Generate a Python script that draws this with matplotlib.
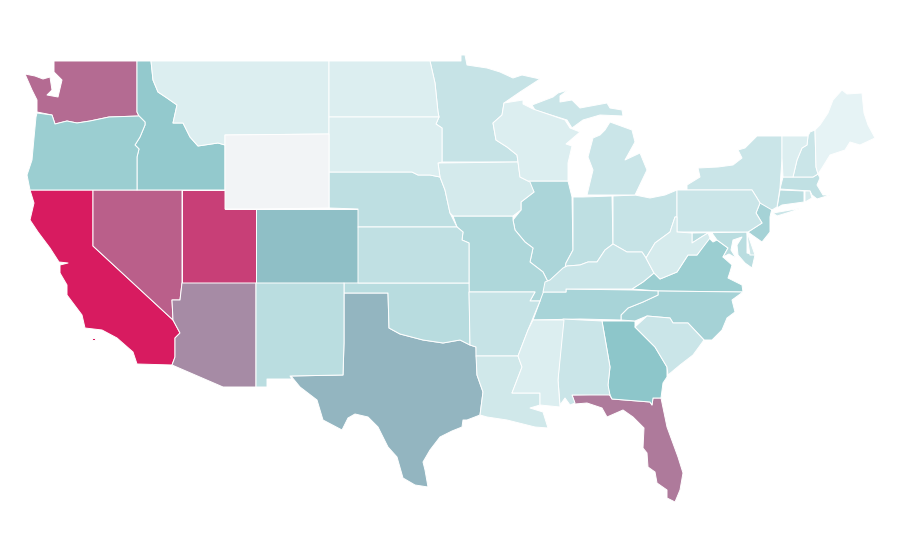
import numpy as np
import matplotlib
matplotlib.use("Agg")
import matplotlib.pyplot as plt
from matplotlib.collections import PolyCollection
from matplotlib.colors import LinearSegmentedColormap, Normalize

# estimated value per state, read off the fill colour (Wyoming has no data)
states = ["CA", "UT", "NV", "WA", "FL", "AZ", "TX", "CO", "GA", "ID", "OR", "VA", "NC", "NJ", "TN",
          "IL", "MO", "OK", "NM", "CT", "MD", "NE", "IN", "KS", "MA", "MN", "OH", "NY", "PA", "MI",
          "KY", "AL", "SC", "NH", "AR", "LA", "DE", "IA", "WV", "RI", "MT", "ND", "SD", "WI", "MS",
          "VT", "ME", "WY"]
values = [100, 85, 72, 67, 61, 54, 37, 33, 30, 28, 25, 25, 22, 22, 21,
          20, 19, 16, 15, 15, 15, 14, 14, 13, 13, 11, 11, 10, 10, 10,
          10, 10, 10, 10, 11, 8, 8, 7, 6, 6, 4, 4, 4, 4, 4,
          4, 1, np.nan]

# state outlines, in pixels
outlines = {
    "WA": [[(54, 61), (137, 61), (137, 112), (139, 116), (109, 117), (90, 121), (77, 123), (67, 121), (55, 124), (52, 115), (37, 112),
            (37, 100), (32, 90), (25, 74), (35, 76), (43, 79), (50, 77), (52, 90), (47, 95), (58, 97), (62, 80), (54, 72)]],
    "OR": [[(37, 113), (52, 115), (55, 124), (67, 121), (77, 123), (90, 121), (109, 117), (139, 116), (145, 122), (145, 125), (140, 137),
            (135, 145), (139, 149), (137, 157), (137, 190), (30, 190), (27, 175), (32, 160), (34, 138), (36, 117)]],
    "ID": [[(137, 61), (151, 61), (153, 80), (158, 92), (167, 98), (177, 105), (173, 123), (183, 123), (190, 137), (198, 146), (218, 143),
            (225, 145), (225, 190), (137, 190), (137, 157), (139, 149), (135, 145), (140, 137), (145, 125), (145, 122), (139, 116), (137, 112)]],
    "MT": [[(151, 61), (329, 61), (329, 134), (225, 135), (225, 145), (218, 143), (198, 146), (190, 137), (183, 123), (173, 123), (177, 105),
            (167, 98), (158, 92), (153, 80)]],
    "WY": [[(225, 135), (329, 134), (329, 208), (256, 209), (225, 209)]],
    "ND": [[(329, 61), (430, 61), (435, 83), (438, 112), (439, 117), (329, 117)]],
    "SD": [[(329, 117), (439, 117), (436, 124), (442, 128), (442, 162), (438, 163), (440, 177), (430, 175), (418, 175), (412, 172), (329, 172)]],
    "NE": [[(329, 172), (412, 172), (418, 175), (430, 175), (440, 177), (445, 190), (450, 213), (457, 227), (358, 227), (358, 209), (329, 208)]],
    "KS": [[(358, 227), (457, 227), (463, 232), (462, 240), (469, 243), (469, 283), (358, 283)]],
    "CO": [[(256, 209), (358, 209), (358, 283), (256, 283)]],
    "NM": [[(256, 283), (344, 283), (344, 343), (343, 375), (290, 376), (292, 379), (267, 379), (267, 387), (256, 387)]],
    "OK": [[(344, 283), (469, 283), (470, 345), (460, 340), (443, 343), (423, 340), (400, 334), (389, 328), (388, 293), (344, 293)]],
    "TX": [[(344, 293), (388, 293), (389, 328), (400, 334), (423, 340), (443, 343), (460, 340), (470, 345), (476, 347), (477, 375), (483, 392),
            (480, 415), (467, 420), (463, 420), (462, 427), (452, 431), (440, 437), (430, 450), (423, 462), (425, 470), (428, 487), (415, 485), (403, 478),
            (397, 457), (388, 447), (378, 427), (368, 417), (355, 414), (348, 418), (342, 430), (323, 420), (317, 400), (300, 387), (291, 376),
            (343, 375), (344, 343)]],
    "AZ": [[(182, 283), (256, 283), (256, 387), (223, 387), (172, 365), (175, 357), (175, 338), (180, 333), (173, 320), (172, 300), (180, 300)]],
    "UT": [[(182, 190), (225, 190), (225, 209), (256, 209), (256, 283), (182, 283)]],
    "NV": [[(93, 190), (182, 190), (182, 283), (180, 300), (172, 300), (173, 320), (93, 246)]],
    "CA": [[(30, 190), (93, 190), (93, 246), (173, 320), (180, 333), (175, 338), (175, 357), (172, 365), (137, 364), (133, 352), (117, 338),
            (102, 330), (85, 328), (82, 315), (67, 295), (67, 285), (60, 273), (60, 265), (68, 263), (59, 262), (50, 248), (38, 232), (30, 220),
            (34, 203)],
           [(92, 338), (95, 338), (95, 340), (92, 340)]],
    "MN": [[(430, 61), (461, 61), (461, 55), (465, 55), (467, 65), (487, 68), (500, 72), (513, 78), (522, 75), (540, 79), (520, 92), (504, 103),
            (502, 115), (493, 123), (496, 140), (507, 147), (517, 155), (518, 162), (442, 162), (442, 128), (436, 124), (439, 117), (438, 112), (435, 83)]],
    "IA": [[(438, 163), (518, 162), (520, 177), (530, 182), (534, 192), (521, 202), (521, 210), (513, 216), (453, 216), (450, 213), (445, 190), (440, 177)]],
    "WI": [[(504, 103), (523, 100), (523, 104), (533, 109), (565, 120), (570, 128), (580, 132), (566, 144), (572, 146), (568, 163), (568, 181),
            (528, 181), (520, 177), (518, 162), (517, 155), (507, 147), (496, 140), (493, 123), (502, 115)]],
    "MI": [[(532, 105), (553, 97), (558, 93), (568, 90), (560, 96), (560, 102), (572, 100), (580, 108), (607, 103), (610, 108), (622, 110), (623, 116),
            (600, 115), (583, 120), (572, 128), (567, 120), (535, 110)],
           [(610, 122), (632, 130), (635, 142), (625, 160), (640, 153), (647, 170), (635, 195), (587, 195), (593, 170), (588, 157), (593, 138), (600, 135), (605, 130)]],
    "IL": [[(528, 181), (568, 181), (572, 197), (573, 250), (566, 263), (565, 268), (548, 282), (543, 272), (530, 262), (533, 248), (525, 242),
            (515, 230), (513, 220), (521, 210), (521, 202), (534, 192)]],
    "MO": [[(453, 216), (513, 216), (513, 220), (515, 230), (525, 242), (533, 248), (530, 262), (543, 272), (548, 282), (543, 293), (540, 301), (530, 301),
            (535, 292), (469, 292), (469, 243), (462, 240), (463, 232), (457, 227)]],
    "AR": [[(469, 292), (535, 292), (530, 301), (540, 301), (533, 318), (528, 330), (518, 356), (476, 356), (476, 347), (470, 345)]],
    "LA": [[(476, 356), (518, 356), (522, 367), (512, 393), (540, 393), (540, 405), (530, 408), (543, 412), (548, 428), (535, 427), (507, 420), (487, 417),
            (480, 415), (483, 392), (477, 375)]],
    "MS": [[(533, 320), (564, 320), (558, 380), (560, 407), (540, 405), (540, 393), (512, 393), (522, 367), (518, 356), (528, 330)]],
    "AL": [[(563, 319), (602, 321), (610, 367), (608, 385), (610, 395), (572, 395), (575, 403), (570, 405), (565, 398), (560, 405), (558, 380)]],
    "GA": [[(602, 321), (635, 321), (635, 327), (655, 347), (667, 367), (667, 377), (663, 383), (661, 398), (653, 398), (652, 405), (650, 402), (612, 399),
            (609, 393), (608, 385), (610, 367)]],
    "FL": [[(572, 395), (609, 394), (612, 399), (650, 402), (652, 405), (653, 398), (661, 398), (667, 427), (678, 457), (683, 473), (680, 490), (675, 502),
            (667, 498), (667, 490), (657, 483), (655, 472), (648, 467), (647, 453), (643, 448), (644, 428), (633, 417), (623, 410), (607, 417), (602, 408),
            (587, 403), (575, 404)]],
    "SC": [[(635, 327), (647, 316), (670, 318), (673, 323), (688, 323), (704, 340), (693, 355), (680, 365), (668, 375), (667, 367), (655, 347)]],
    "NC": [[(658, 291), (743, 292), (732, 300), (735, 312), (727, 318), (722, 330), (712, 340), (704, 340), (688, 323), (673, 323), (670, 318), (647, 316),
            (635, 321), (621, 320), (621, 315), (628, 308), (643, 302), (658, 295)]],
    "TN": [[(542, 292), (566, 292), (566, 289), (633, 290), (658, 291), (658, 295), (643, 302), (628, 308), (621, 315), (621, 320), (580, 319), (533, 320), (540, 301)]],
    "KY": [[(545, 282), (550, 280), (563, 268), (567, 266), (580, 265), (588, 262), (597, 262), (605, 250), (613, 244), (627, 252), (642, 252), (646, 258),
            (654, 273), (643, 282), (632, 289), (566, 289), (566, 292), (543, 292)]],
    "VA": [[(632, 289), (643, 282), (654, 273), (660, 279), (677, 272), (688, 255), (697, 255), (709, 238), (713, 242), (717, 240), (728, 248), (723, 257),
            (732, 265), (730, 272), (728, 278), (742, 285), (743, 292), (658, 291)]],
    "WV": [[(646, 258), (655, 243), (670, 232), (675, 217), (677, 217), (677, 232), (692, 233), (692, 243), (703, 236), (708, 233), (710, 238), (697, 255),
            (688, 255), (677, 272), (660, 279), (654, 273)]],
    "OH": [[(613, 196), (635, 195), (650, 198), (665, 195), (677, 190), (677, 217), (675, 217), (670, 232), (655, 243), (646, 258), (642, 252), (627, 252), (613, 244)]],
    "IN": [[(573, 197), (583, 197), (612, 196), (613, 244), (605, 250), (597, 262), (588, 262), (580, 265), (567, 266), (565, 268), (566, 263), (573, 250)]],
    "PA": [[(677, 190), (687, 190), (752, 190), (757, 198), (760, 203), (756, 213), (762, 223), (748, 232), (677, 232)]],
    "NY": [[(687, 190), (687, 185), (700, 177), (698, 168), (718, 167), (733, 165), (742, 158), (738, 150), (745, 148), (757, 136), (782, 136), (782, 158), (780, 188),
            (777, 207), (772, 210), (760, 203), (757, 198), (752, 190)],
           [(773, 213), (802, 208), (790, 212), (777, 216)]],
    "VT": [[(782, 136), (808, 136), (807, 145), (802, 148), (797, 160), (793, 177), (783, 177), (782, 158)]],
    "NH": [[(810, 132), (815, 130), (816, 167), (818, 174), (813, 177), (793, 177), (797, 160), (802, 148), (807, 145), (808, 136)]],
    "ME": [[(815, 130), (820, 125), (828, 113), (833, 100), (842, 90), (847, 94), (862, 93), (864, 113), (868, 125), (875, 138), (860, 145), (850, 142), (845, 150),
            (830, 155), (822, 168), (818, 174), (816, 167)]],
    "MA": [[(783, 177), (813, 177), (818, 174), (820, 178), (817, 185), (823, 195), (830, 195), (817, 199), (812, 195), (810, 191), (780, 189)]],
    "CT": [[(780, 190), (804, 191), (804, 202), (782, 205), (777, 208)]],
    "RI": [[(805, 191), (810, 191), (812, 198), (805, 202)]],
    "NJ": [[(760, 203), (772, 208), (770, 217), (770, 232), (762, 242), (752, 235), (748, 232), (762, 223), (756, 213)]],
    "DE": [[(747, 232), (755, 255), (750, 255), (748, 242)]],
    "MD": [[(692, 233), (747, 232), (747, 253), (755, 255), (752, 268), (745, 263), (738, 255), (737, 245), (742, 237), (733, 240), (731, 250), (736, 258), (729, 254), (723, 257),
            (728, 248), (717, 240), (712, 233), (708, 233), (703, 236), (692, 243)]],
}

colors = ["#e8f4f6", "#8cc6ca", "#d81b60"]
cmap = LinearSegmentedColormap.from_list("teal_pink", [(0, colors[0]), (0.3, colors[1]), (1, colors[2])])
cmap.set_bad("#f2f4f6")

verts = []
cell_values = []
for state, value in zip(states, values):
    for ring in outlines[state]:
        verts.append(ring)
        cell_values.append(value)

fig = plt.figure(figsize=(9, 5.6), dpi=100)
ax = fig.add_axes([0, 0, 1, 1])
shapes = PolyCollection(verts, array=np.ma.masked_invalid(cell_values), cmap=cmap, norm=Normalize(0, 100),
                        edgecolors="white", linewidths=0.7)
ax.add_collection(shapes)
ax.set_xlim(0, 900)
ax.set_ylim(560, 0)
ax.axis("off")
fig.savefig("out.png", dpi=100, facecolor="white")
